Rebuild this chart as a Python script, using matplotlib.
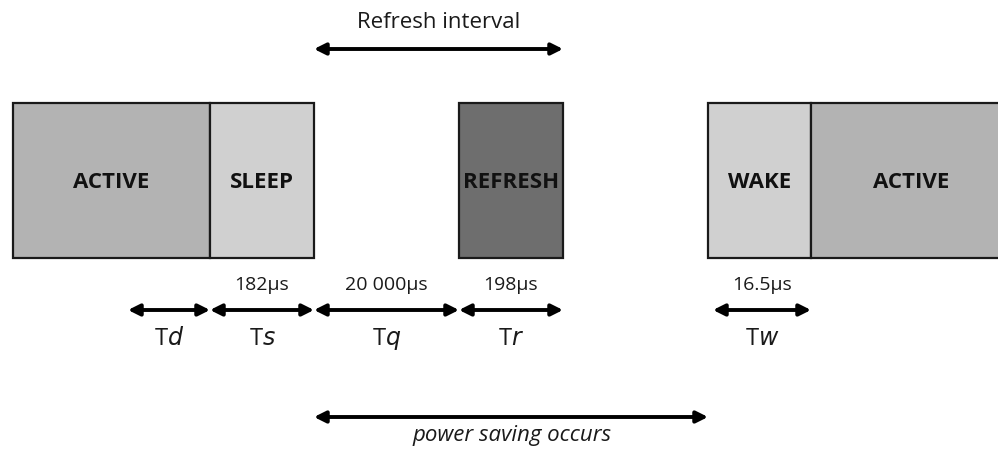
"""Refresh / power-saving timing diagram. Saves out.png."""

import matplotlib

matplotlib.use("Agg")
import matplotlib.pyplot as plt
from matplotlib.patches import Rectangle

# state blocks along the time line (pixel-space timeline of the diagram)
block_labels = ["ACTIVE", "SLEEP", "REFRESH", "WAKE", "ACTIVE"]
block_start = [13, 210, 459, 708, 811]
block_end = [210, 314, 563, 811, 1010]
block_colors = ["#b3b3b3", "#d0d0d0", "#6e6e6e", "#d0d0d0", "#b3b3b3"]

# interval arrows below the blocks
interval_names = ["d", "s", "q", "r", "w"]
interval_start = [128, 210, 314, 459, 713]
interval_end = [210, 314, 459, 563, 811]
interval_values = ["", "182µs", "20 000µs", "198µs", "16.5µs"]

refresh_span = (314, 563)
saving_span = (314, 708)

FONT = "Open Sans"

fig = plt.figure(figsize=(9.98, 4.49), dpi=100)
ax = fig.add_axes([0, 0, 1, 1])
ax.set_xlim(0, 998)
ax.set_ylim(449, 0)
ax.axis("off")


def arrow(x0, x1, y):
    ax.annotate("", xy=(x0, y), xytext=(x1, y),
                arrowprops=dict(arrowstyle="<|-|>", color="black", lw=2.8,
                                mutation_scale=17, shrinkA=0, shrinkB=0))


top, bottom = 103, 258
for lab, x0, x1, c in zip(block_labels, block_start, block_end, block_colors):
    ax.add_patch(Rectangle((x0, top), x1 - x0, bottom - top, facecolor=c,
                           edgecolor="#1a1a1a", lw=1.6))
    xc = (x0 + x1) / 2 if x1 <= 998 else x0 + 100
    ax.text(xc, (top + bottom) / 2 + 2, lab, ha="center", va="center",
            fontsize=16, fontweight="bold", family=FONT, color="#111111")

for n, x0, x1, v in zip(interval_names, interval_start, interval_end, interval_values):
    arrow(x0, x1, 310)
    xc = (x0 + x1) / 2
    if v:
        ax.text(xc, 285, v, ha="center", va="center", fontsize=14,
                family=FONT, color="#1a1a1a")
    ax.text(xc, 339, "T$\\it{" + n + "}$", ha="center", va="center",
            fontsize=17, family=FONT, color="#1a1a1a")

arrow(refresh_span[0], refresh_span[1], 49)
ax.text(sum(refresh_span) / 2, 23, "Refresh interval", ha="center", va="center",
        fontsize=16, family=FONT, color="#1a1a1a")

arrow(saving_span[0], saving_span[1], 417)
ax.text(512, 436, "power saving occurs", ha="center", va="center",
        fontsize=16, style="italic", family=FONT, color="#1a1a1a")

fig.savefig("out.png", dpi=100)
